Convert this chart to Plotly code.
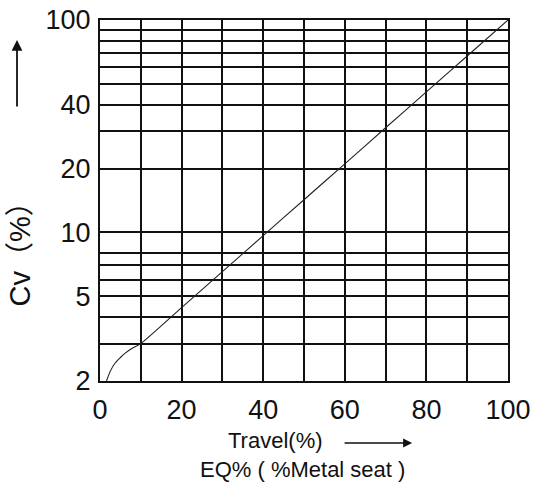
import plotly.graph_objects as go

# Data
travel = [1.6, 2.5, 3.7, 5, 6.1, 8, 10, 20, 30, 40, 50, 60, 70, 80, 90, 100]
cv = [2.0, 2.22, 2.43, 2.58, 2.7, 2.86, 3.0, 4.43, 6.54, 9.66, 14.26, 21.05, 31.1, 45.9, 67.7, 100]

x_grid = [0, 10, 20, 30, 40, 50, 60, 70, 80, 90, 100]
x_labels = ["0", "", "20", "", "40", "", "60", "", "80", "", "100"]
y_grid = [2, 3, 4, 5, 6, 7, 8, 10, 20, 30, 40, 50, 60, 70, 80, 90, 100]
y_labels = ["2", "", "", "5", "", "", "", "10", "20", "", "40", "", "", "", "", "", "100"]

FONT = "Liberation Sans, Arial, sans-serif"

fig = go.Figure()
fig.add_trace(go.Scatter(x=travel, y=cv, mode="lines",
                         line=dict(color="#222", width=1.1, shape="spline", smoothing=0.6),
                         showlegend=False, hoverinfo="skip"))

fig.update_xaxes(range=[0, 100], tickvals=x_grid, ticktext=x_labels,
                 showgrid=True, gridcolor="#111", gridwidth=2,
                 showline=True, linecolor="#111", linewidth=2, mirror=True,
                 zeroline=False, ticks="", ticklabelstandoff=4, automargin=False,
                 tickfont=dict(family=FONT, size=27, color="#111"))
fig.update_yaxes(type="log", range=[0.30103, 2], tickvals=y_grid, ticktext=y_labels,
                 showgrid=True, gridcolor="#111", gridwidth=2,
                 showline=True, linecolor="#111", linewidth=2, mirror=True,
                 zeroline=False, ticks="", ticklabelstandoff=2, automargin=False,
                 tickfont=dict(family=FONT, size=27, color="#111"))

annotations = [
    dict(text="Cv（%）", x=-0.196, y=0.37, xref="paper", yref="paper",
         textangle=-90, showarrow=False, xanchor="center", yanchor="middle",
         font=dict(family=FONT + ", Noto Sans CJK SC", size=29, color="#111")),
    dict(text="", x=-0.2034, y=0.9446, xref="paper", yref="paper",
         showarrow=True, ax=0, ay=68, arrowhead=2, arrowsize=1.2,
         arrowwidth=1.8, arrowcolor="#111"),
    dict(text="Travel(%)", x=0.429, y=-0.166, xref="paper", yref="paper",
         showarrow=False, xanchor="center", yanchor="middle",
         font=dict(family=FONT, size=22, color="#111")),
    dict(text="", x=0.765, y=-0.172, xref="paper", yref="paper",
         showarrow=True, ax=-69, ay=0, arrowhead=2, arrowsize=1.2,
         arrowwidth=1.5, arrowcolor="#111"),
    dict(text="EQ% ( %Metal seat )", x=0.4975, y=-0.2465, xref="paper", yref="paper",
         showarrow=False, xanchor="center", yanchor="middle",
         font=dict(family=FONT, size=22, color="#111")),
]

fig.update_layout(width=557, height=492,
                  margin=dict(l=100, r=49, t=20, b=111),
                  paper_bgcolor="white", plot_bgcolor="white",
                  annotations=annotations)

# remove the default page body margin so the figure sits at the window's corner
fig.write_html("out.html", config={"displayModeBar": False},
               post_script="document.body.style.margin='0';document.body.style.padding='0';")
